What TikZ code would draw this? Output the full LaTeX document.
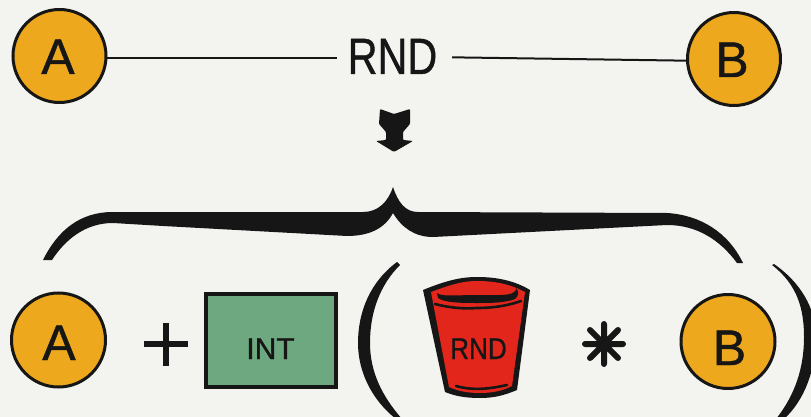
\documentclass[tikz,border=0pt]{standalone}
\usepackage{fontspec}
\setmainfont{Liberation Sans}
\newfontfamily\heavy[FakeBold=0.9]{Liberation Sans}
\definecolor{paper}{HTML}{F3F3F0}
\definecolor{ink}{HTML}{161616}
\definecolor{amber}{HTML}{EDA81E}
\definecolor{sage}{HTML}{6DA880}
\definecolor{bucketred}{HTML}{E3261C}
% baseline-placed text: #1 horizontal shift, #2 drop of baseline below node centre, #3 text
\newcommand{\placed}[3]{\smash{\makebox[0pt][c]{\hspace{#1}\raisebox{-#2}{#3}}}}
\tikzset{
  disc/.style={circle,draw=ink,fill=amber,line width=3pt,minimum size=93pt,inner sep=0pt,text=ink,font=\heavy\fontsize{50}{50}\selectfont},
  wire/.style={draw=ink,line width=2pt},
  mark op/.style={draw=ink,line width=6.5pt},
  solid ink/.style={fill=ink,draw=none},
  label big/.style={text=ink,inner sep=0pt,font=\heavy\fontsize{51}{51}\selectfont},
  label small/.style={text=ink,inner sep=0pt,font=\heavy\fontsize{30}{30}\selectfont},
  stitch/.style={draw=ink,line width=2.6pt,line cap=round}
}
\begin{document}
\begin{tikzpicture}[x=1pt,y=-1pt]
\useasboundingbox (0,0) rectangle (811,417);
\begin{scope}
\clip (0,0) rectangle (811,417);
\fill[paper] (0,0) rectangle (811,417);

% top row
\node[disc] (atop) at (59.5,56) {\placed{-3pt}{18pt}{A}};
\node[disc] (btop) at (734,59) {\placed{-4pt}{18pt}{B}};
\node[label big,minimum width=115pt,minimum height=40pt] (rnd) at (392.5,55.5) {\placed{0pt}{18.5pt}{\scalebox{.81}[1]{RND}}};
\draw[wire] (atop.-2) -- ([xshift=2pt]rnd.west |- atop.-2);
\draw[wire] ([xshift=2pt]rnd.east |- btop.178) -- (btop.182);

% block arrow
\fill[ink,rounded corners=1pt] (380,109) -- (379,124) -- (386,132) -- (386,140) -- (376,141)
  -- (394,152) -- (413,141) -- (403,140) -- (403,132) -- (410,124) -- (410,109) -- (394,114) -- cycle;

% large brace
\path[solid ink] (43,260) .. controls (58,230) and (80,212) .. (113,212)
  -- (363,212) .. controls (378,212) and (388,202) .. (393,187)
  .. controls (398,202) and (405,212) .. (418,212)
  -- (667,213) .. controls (700,215) and (728,232) .. (743,263)
  -- (737,263) .. controls (720,240) and (697,225) .. (667,225)
  -- (433,237) .. controls (415,237) and (402,228) .. (393,213)
  .. controls (385,228) and (370,236) .. (347,236)
  -- (163,226) -- (113,223) .. controls (85,223) and (65,240) .. (52,260) -- cycle;

% bottom row
\node[disc,minimum size=94pt] (abot) at (58.5,340) {\placed{1pt}{20pt}{A}};
\draw[mark op] (144,344) -- (188,344) (166,323) -- (166,366);
\node[rectangle,draw=ink,fill=sage,line width=3.5pt,minimum width=130pt,minimum height=93pt,label small] (int) at (271,340.5) {\placed{-1pt}{18.5pt}{INT}};

% brackets
\path[solid ink] (397,262) .. controls (370,282) and (358,312) .. (358,343)
  .. controls (358,372) and (372,400) .. (396,419)
  -- (402,419) .. controls (382,396) and (370,372) .. (370,343)
  .. controls (370,312) and (380,285) .. (400,265) -- cycle;
\path[solid ink] (772,265) .. controls (798,285) and (804,310) .. (804,337)
  .. controls (804,368) and (795,395) .. (776,419)
  -- (784,419) .. controls (805,400) and (816,368) .. (816,337)
  .. controls (816,308) and (800,282) .. (774,264) -- cycle;

% bucket
\path[fill=ink] (423,290) .. controls (445,281) and (460,277) .. (477,277)
  .. controls (498,277) and (515,281) .. (530,290)
  -- (517,390) .. controls (505,395) and (495,398) .. (480,398)
  .. controls (465,398) and (455,396) .. (445,392) -- cycle;
\path[fill=bucketred] (431,292) .. controls (450,285) and (462,281) .. (477,281)
  .. controls (497,281) and (512,285) .. (525,292)
  -- (512,386) .. controls (502,391) and (492,393) .. (480,393)
  .. controls (467,393) and (458,391) .. (449,387) -- cycle;
\path[solid ink] (437,293) .. controls (442,297) and (455,295) .. (478,295)
  .. controls (495,295) and (510,296) .. (514,292) .. controls (516,291) and (516,290) .. (516,288)
  .. controls (519,291) and (519,296) .. (515,299)
  .. controls (505,303) and (490,303) .. (478,303)
  .. controls (462,303) and (445,303) .. (438,298) -- cycle;
\draw[stitch] (435,304) .. controls (450,308) and (465,309) .. (477,308) .. controls (495,308) and (510,305) .. (521,301);
\draw[stitch] (456,386) .. controls (470,390) and (485,390) .. (507,385);
\node[label small,minimum height=24pt] (rndb) at (478.5,347) {\placed{0pt}{12pt}{\scalebox{.87}[1]{RND}}};

% multiply star
\draw[mark op,line width=6pt,line cap=round]
  (604,324) -- (604,364) (585,344) -- (623,344)
  (590,330) -- (618,358) (590,358) -- (618,330);
\node[disc,minimum size=94pt] (bbot) at (728,341.5) {\placed{3pt}{23.5pt}{B}};
\end{scope}
\end{tikzpicture}
\end{document}
